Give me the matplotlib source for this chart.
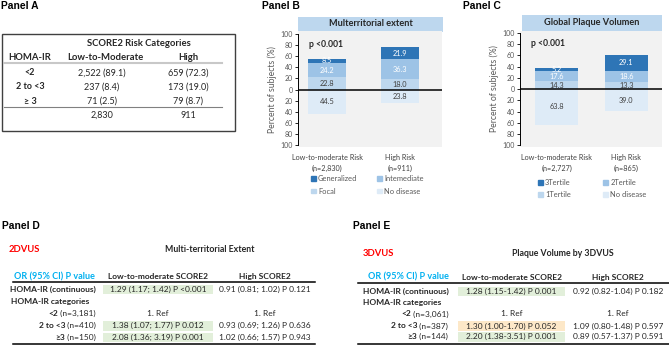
import matplotlib
matplotlib.use("Agg")
import matplotlib.pyplot as plt
from matplotlib.patches import Rectangle, Patch
from matplotlib.ticker import FuncFormatter

plt.rcParams['font.family'] = ['Lato', 'DejaVu Sans']

W, H = 669, 345

# ---- Panel A data
homa_cats = ["<2", "2 to <3", "≥ 3"]
a_low_mod = ["2,522 (89.1)", "237 (8.4)", "71 (2.5)"]
a_high = ["659 (72.3)", "173 (19.0)", "79 (8.7)"]
a_totals = ["2,830", "911"]

# ---- Panel B data (percent of subjects)
b_groups = ["Low-to-moderate Risk\n(n=2,830)", "High Risk\n(n=911)"]
b_no_disease = [44.5, 23.8]
b_focal = [22.8, 18.0]
b_intermediate = [24.2, 36.3]
b_generalized = [8.5, 21.9]
b_names = ["Generalized", "Intemediate", "Focal", "No disease"]

# ---- Panel C data
c_groups = ["Low-to-moderate Risk\n(n=2,727)", "High Risk\n(n=865)"]
c_no_disease = [63.8, 39.0]
c_t1 = [14.3, 13.3]
c_t2 = [17.6, 18.6]
c_t3 = [5.2, 29.1]
c_names = ["3Tertile", "2Tertile", "1Tertile", "No disease"]

# ---- Panel D / E tables
row_main = ["HOMA-IR (continuous)", "HOMA-IR categories", "<2", "2 to <3", "≥3"]
d_n = ["", "", " (n=3,181)", " (n=410)", " (n=150)"]
d_low = ["1.29 (1.17; 1.42) P <0.001", "", "1. Ref",
         "1.38 (1.07; 1.77) P 0.012", "2.08 (1.36; 3.19) P 0.001"]
d_high = ["0.91 (0.81; 1.02) P 0.121", "", "1. Ref",
          "0.93 (0.69; 1.26) P 0.636", "1.02 (0.66; 1.57) P 0.943"]
d_fill = ["#e2efda", None, None, "#e2efda", "#e2efda"]

e_n = ["", "", " (n=3,061)", " (n=387)", " (n=144)"]
e_low = ["1.28 (1.15-1.42) P 0.001", "", "1. Ref",
         "1.30 (1.00-1.70) P 0.052", "2.20 (1.38-3.51) P 0.001"]
e_high = ["0.92 (0.82-1.04) P 0.182", "", "1. Ref",
          "1.09 (0.80-1.48) P 0.597", "0.89 (0.57-1.37) P 0.591"]
e_fill = ["#e2efda", None, None, "#fde8c8", "#e2efda"]

BLUES = ["#2e75b6", "#9dc3e6", "#bdd7ee", "#deebf7"]
TXT = "#262626"
GREY = "#595959"

fig = plt.figure(figsize=(W / 100, H / 100), dpi=100)

# overlay in pixel coordinates for tables / labels
ov = fig.add_axes([0, 0, 1, 1])
ov.set_xlim(0, W)
ov.set_ylim(H, 0)
ov.axis("off")

panel_font = dict(family="Liberation Sans", fontweight="bold", fontsize=7.4, color="black", va="center")
ov.text(1, 6, "Panel A", **panel_font)
ov.text(262, 6, "Panel B", **panel_font)
ov.text(463, 6, "Panel C", **panel_font)
ov.text(2, 226, "Panel D", **panel_font)
ov.text(353, 226, "Panel E", **panel_font)

# ---- Panel A table
ov.add_patch(Rectangle((1.5, 33.5), 233, 97.5, fill=False, ec="#404040", lw=1.0))
hdr = dict(ha="center", va="center", fontsize=6.8, fontweight="bold", color=TXT)
ov.text(138.5, 43, "SCORE2 Risk Categories", **hdr)
ov.text(30, 58, "HOMA-IR", **hdr)
ov.text(105, 58, "Low-to-Moderate", **hdr)
ov.text(188, 58, "High", **hdr)
ov.plot([4, 222], [62.8, 62.8], color="#c8c8c8", lw=1.5)
for i, cat in enumerate(homa_cats):
    y = 72.7 + i * 14.2
    ov.text(30, y, cat, ha="center", va="center", fontsize=6.5, fontweight="bold", color=TXT)
    ov.text(102, y, a_low_mod[i], ha="center", va="center", fontsize=6.5, color=TXT)
    ov.text(188, y, a_high[i], ha="center", va="center", fontsize=6.5, color=TXT)
ov.plot([4, 222], [106.7, 106.7], color="#808080", lw=0.8)
ov.text(102, 115.5, a_totals[0], ha="center", va="center", fontsize=6.5, color=TXT)
ov.text(188, 115.5, a_totals[1], ha="center", va="center", fontsize=6.5, color=TXT)


def stacked_panel(box, xlim, width, groups, neg, stacks, title, title_box):
    l, t, r, b = box
    ax = fig.add_axes([l / W, 1 - b / H, (r - l) / W, (b - t) / H])
    ax.set_facecolor("#f2f2f2")
    x = [0, 1]
    nb = ax.bar(x, [-v for v in neg], width, color=BLUES[3], zorder=2)
    ax.bar_label(nb, labels=[f"{v:.1f}" for v in neg], label_type="center",
                 fontsize=5.3, color="#404040")
    bottom = [0, 0]
    stack_cols = [BLUES[2], BLUES[1], BLUES[0]]
    stack_txt = ["#404040", "white", "white"]
    for vals, col, tc in zip(stacks, stack_cols, stack_txt):
        bars = ax.bar(x, vals, width, bottom=bottom, color=col, zorder=2)
        ax.bar_label(bars, labels=[f"{v:.1f}" for v in vals], label_type="center",
                     fontsize=5.3, color=tc)
        bottom = [bo + v for bo, v in zip(bottom, vals)]
    ax.axhline(0, color="black", lw=1.1, zorder=3)
    ax.set_ylim(-103, 104)
    ax.set_xlim(*xlim)
    ax.set_yticks(range(-100, 101, 20))
    ax.yaxis.set_major_formatter(FuncFormatter(lambda v, p: f"{abs(v):.0f}"))
    ax.tick_params(axis="y", labelsize=5, labelcolor=GREY, color="black",
                   length=2, width=0.6, pad=1.5)
    ax.set_xticks(x)
    ax.set_xticklabels(groups, fontsize=5.2, color="#404040", linespacing=1.7)
    ax.tick_params(axis="x", length=0, pad=5)
    for s in ["top", "right", "bottom"]:
        ax.spines[s].set_visible(False)
    ax.spines["left"].set_bounds(-100, 100)
    ax.spines["left"].set_linewidth(0.7)
    ax.set_ylabel("Percent of subjects (%)", fontsize=6.2, color=GREY, labelpad=3)
    ax.text(0.075, 0.89, "p <0.001", transform=ax.transAxes, fontsize=6.2,
            fontweight="bold", color=TXT, va="center")
    tl, tt, tr, tb = title_box
    ov.add_patch(Rectangle((tl, tt), tr - tl, tb - tt, color="#bdd7ee", lw=0))
    ov.text((tl + tr) / 2, (tt + tb) / 2, title, ha="center", va="center",
            fontsize=6.6, fontweight="bold", color=TXT)
    return ax


axb = stacked_panel((298, 31.5, 441.7, 147), (-0.401, 1.573), 0.52, b_groups, b_no_disease,
                    [b_focal, b_intermediate, b_generalized],
                    "Multerritorial extent", (298, 16.5, 443, 31.5))
axc = stacked_panel((520, 30.5, 661.7, 147), (-0.528, 1.51), 0.62, c_groups, c_no_disease,
                    [c_t1, c_t2, c_t3],
                    "Global Plaque Volumen", (522, 15, 662, 30.5))


# legends (two columns: dark/mid on first row, light/lightest on second)
def add_legend(ax, names, x0, y0, spacing):
    handles = [Patch(color=BLUES[0]), Patch(color=BLUES[2]),
               Patch(color=BLUES[1]), Patch(color=BLUES[3])]
    labels = [names[0], names[2], names[1], names[3]]
    ax.legend(handles, labels, ncol=2, frameon=False, fontsize=5.4,
              labelcolor=GREY, handlelength=0.6, handleheight=0.6,
              handletextpad=0.35, columnspacing=spacing, labelspacing=0.7,
              loc="upper left", bbox_to_anchor=(x0 / W, 1 - y0 / H),
              bbox_transform=fig.transFigure, borderpad=0, borderaxespad=0)


add_legend(axb, b_names, 311, 175.5, 2.6)
add_legend(axc, c_names, 538, 179, 4.3)

# ---- Panels D and E: OR tables
fig.canvas.draw()
renderer = fig.canvas.get_renderer()


def or_table(x_lab_l, x_lab_r, x_low, x_high, box_x, line_x, ys, n_txt, low, high, fills,
             head_y, line_y, bottom_y, or_x):
    fs = 6.0
    ov.text(or_x, head_y, "OR (95% CI) P value", ha="center", va="center", fontsize=6.5,
            fontweight="bold", color="#00b0f0")
    ov.text(x_low, head_y, "Low-to-moderate SCORE2", ha="center", va="center", fontsize=6.0,
            fontweight="bold", color=TXT)
    ov.text(x_high, head_y, "High SCORE2", ha="center", va="center", fontsize=6.0,
            fontweight="bold", color=TXT)
    ov.plot(line_x, [line_y, line_y], color="black", lw=1.1)
    ov.plot(line_x, [bottom_y, bottom_y], color="black", lw=1.1)
    for i, y in enumerate(ys):
        if fills[i]:
            ov.add_patch(Rectangle((box_x[0], y - 4.8), box_x[1] - box_x[0], 9.6,
                                   color=fills[i], lw=0))
        if i == 1:
            ov.text(x_lab_l, y, row_main[i], ha="left", va="center", fontsize=fs,
                    fontweight="bold", color=TXT)
        else:
            xr = x_lab_r
            if n_txt[i]:
                t = ov.text(xr, y, n_txt[i], ha="right", va="center", fontsize=fs, color=TXT)
                bb = t.get_window_extent(renderer)
                xr = xr - bb.width * W / fig.bbox.width
            ov.text(xr, y, row_main[i], ha="right", va="center", fontsize=fs,
                    fontweight="bold", color=TXT)
        ov.text(x_low, y, low[i], ha="center", va="center", fontsize=fs, color=TXT)
        ov.text(x_high, y, high[i], ha="center", va="center", fontsize=fs, color=TXT)


panel_title = dict(ha="center", va="center", fontsize=6.3, fontweight="bold", color=TXT)
ov.text(9, 250, "2DVUS", ha="left", va="center", fontsize=6.8, fontweight="bold", color="#ff0000")
ov.text(210, 250, "Multi-territorial Extent", **panel_title)
ov.text(363, 253, "3DVUS", ha="left", va="center", fontsize=6.8, fontweight="bold", color="#ff0000")
ov.text(563, 253, "Plaque Volume by 3DVUS", **panel_title)

or_table(11, 96, 158, 265, (103, 213), [13, 315], [289.3, 301.7, 313.3, 325.7, 337.5],
         d_n, d_low, d_high, d_fill, 276.7, 282.3, 344, 54.5)
or_table(363, 448.3, 511.5, 618, (458.3, 565), [358, 669], [291.5, 302.7, 314, 326, 336.8],
         e_n, e_low, e_high, e_fill, 277.3, 283.3, 344, 408)

fig.savefig("out.png", dpi=100)
